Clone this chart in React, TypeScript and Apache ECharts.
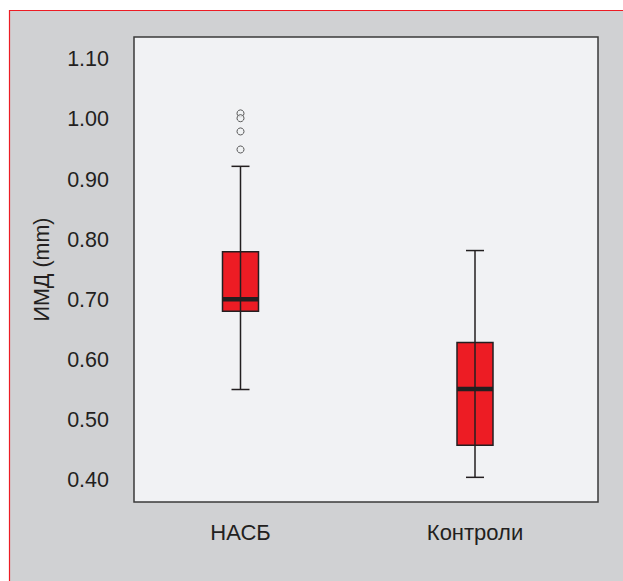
import React, { useEffect, useRef } from "react";
import * as echarts from "echarts";

const categories = ["НАСБ", "Контроли"];
// [low whisker, Q1, median, Q3, high whisker]
const boxValues = [
  [0.551, 0.681, 0.701, 0.780, 0.922],
  [0.405, 0.4585, 0.552, 0.629, 0.782],
];
const outliers = [
  [0, 1.010],
  [0, 1.002],
  [0, 0.980],
  [0, 0.950],
];
const yTicks = [0.4, 0.5, 0.6, 0.7, 0.8, 0.9, 1.0, 1.1];
const yName = "ИМД (mm)";

const FONT = "Liberation Sans, Arial, Helvetica, sans-serif";
const TEXT = "#231f20";

export default function App() {
  const ref = useRef<HTMLDivElement>(null);
  useEffect(() => {
    if (!ref.current) return;
    const chart = echarts.init(ref.current, null, { renderer: "svg" });
    const yMin = 0.364;
    const yMax = 1.137;
    chart.setOption({
      animation: false,
      backgroundColor: "#ffffff",
      graphic: [
        {
          type: "rect",
          z: -10,
          silent: true,
          shape: { x: 9.5, y: 10.5, width: 700, height: 700 },
          style: { fill: "#d0d1d3", stroke: "#ed1c24", lineWidth: 1.2 },
        },
      ],
      grid: [
        {
          left: 134,
          top: 37,
          width: 464,
          height: 465,
          show: true,
          backgroundColor: "#f1f2f4",
          borderColor: "#3a3a3a",
          borderWidth: 1.5,
        },
        {
          left: 123.25,
          top: 37,
          width: 469,
          height: 465,
          show: false,
        },
      ],
      xAxis: [
        {
          gridIndex: 0,
          type: "value",
          show: false,
        },
        {
          gridIndex: 1,
          type: "category",
          data: categories,
          boundaryGap: true,
          axisLine: { show: false },
          axisTick: { show: false },
          splitLine: { show: false },
          axisLabel: {
            margin: 19,
            fontSize: 22,
            fontFamily: FONT,
            color: TEXT,
          },
        },
      ],
      yAxis: [
        {
          gridIndex: 0,
          type: "value",
          min: yMin,
          max: yMax,
          name: yName,
          nameLocation: "middle",
          nameGap: 81,
          nameTextStyle: { fontSize: 21.5, fontFamily: FONT, color: TEXT },
          axisLine: { show: false },
          axisTick: { show: false },
          splitLine: { show: false },
          axisLabel: {
            customValues: yTicks,
            margin: 25,
            fontSize: 21.5,
            fontFamily: FONT,
            color: TEXT,
            formatter: (v: number) => v.toFixed(2),
          },
        },
        {
          gridIndex: 1,
          type: "value",
          min: yMin,
          max: yMax,
          show: false,
          splitLine: { show: false },
        },
      ],
      series: [
        {
          type: "custom",
          xAxisIndex: 1,
          yAxisIndex: 1,
          data: boxValues.map((b, i) => [i, ...b]),
          renderItem: (params: any, api: any) => {
            const idx = api.value(0);
            const low = api.coord([idx, api.value(1)]);
            const q1 = api.coord([idx, api.value(2)]);
            const med = api.coord([idx, api.value(3)]);
            const q3 = api.coord([idx, api.value(4)]);
            const high = api.coord([idx, api.value(5)]);
            const cx = low[0];
            const bw = 36;
            const cw = 18;
            const stroke = "#231f20";
            return {
              type: "group",
              children: [
                {
                  type: "rect",
                  shape: { x: cx - bw / 2, y: q3[1], width: bw, height: q1[1] - q3[1] },
                  style: { fill: "#ed1c24", stroke, lineWidth: 1.5 },
                },
                {
                  type: "line",
                  shape: { x1: cx, y1: low[1], x2: cx, y2: high[1] },
                  style: { stroke, lineWidth: 1.5 },
                },
                {
                  type: "line",
                  shape: { x1: cx - cw / 2, y1: high[1], x2: cx + cw / 2, y2: high[1] },
                  style: { stroke, lineWidth: 1.5 },
                },
                {
                  type: "line",
                  shape: { x1: cx - cw / 2, y1: low[1], x2: cx + cw / 2, y2: low[1] },
                  style: { stroke, lineWidth: 1.5 },
                },
                {
                  type: "rect",
                  shape: { x: cx - bw / 2, y: med[1] - 2.25, width: bw, height: 4.5 },
                  style: { fill: stroke },
                },
              ],
            };
          },
        },
        {
          type: "scatter",
          xAxisIndex: 1,
          yAxisIndex: 1,
          data: outliers,
          symbol: "circle",
          symbolSize: 7,
          itemStyle: { color: "#f1f2f4", borderColor: "#333333", borderWidth: 1 },
        },
      ],
    });
    return () => chart.dispose();
  }, []);
  return (
    <div
      ref={ref}
      style={{ position: "absolute", left: 0, top: 0, width: 623, height: 581 }}
    />
  );
}
